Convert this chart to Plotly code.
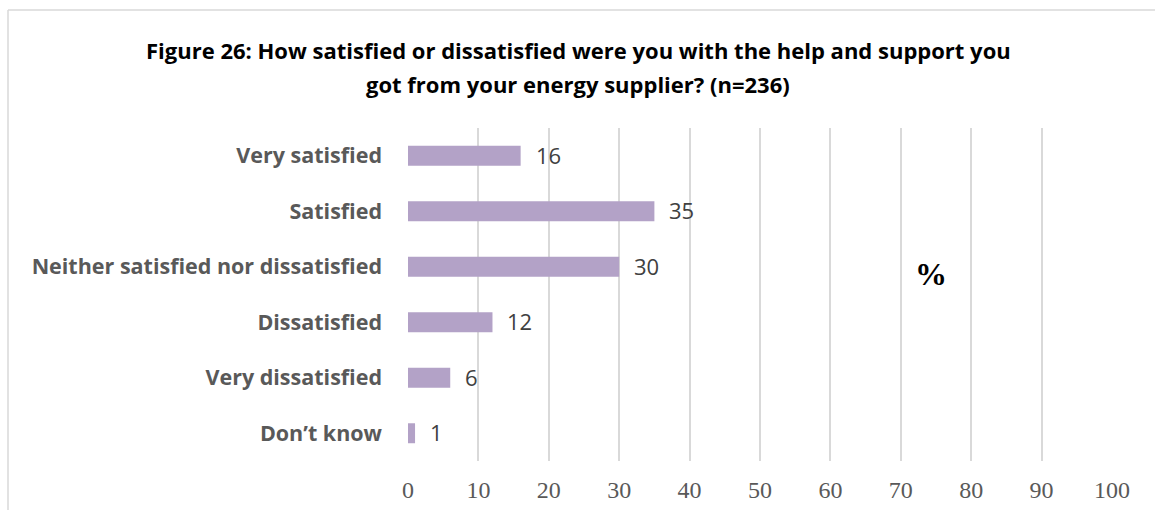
import plotly.graph_objects as go

# Survey responses (percent)
categories = [
    "Very satisfied",
    "Satisfied",
    "Neither satisfied nor dissatisfied",
    "Dissatisfied",
    "Very dissatisfied",
    "Don\u2019t know",
]
percent = [16, 35, 30, 12, 6, 1]
tick_values = [0, 10, 20, 30, 40, 50, 60, 70, 80, 90, 100]

title_lines = [
    "Figure 26: How satisfied or dissatisfied were you with the help and support you",
    "got from your energy supplier? (n=236)",
]

W, H = 1155, 510
L, R, T, B = 408, 43, 128, 49
pw, ph = W - L - R, H - T - B


def px_x(px):
    return (px - L) / pw


def px_y(py):
    return (H - B - py) / ph


fig = go.Figure()
fig.add_trace(go.Bar(
    y=categories,
    x=percent,
    orientation="h",
    marker=dict(color="#b3a2c7", line=dict(width=0)),
    width=0.36,
    hoverinfo="skip",
))

# value labels next to each bar
for cat, val in zip(categories, percent):
    fig.add_annotation(
        x=val, y=cat, xref="x", yref="y",
        text=str(val), showarrow=False,
        xanchor="left", yanchor="middle", xshift=13, yshift=1,
        font=dict(family="Open Sans, sans-serif", size=22, color="#404040"),
    )

# two-line bold title
for line, py in zip(title_lines, [50, 84]):
    fig.add_annotation(
        x=px_x(578), y=px_y(py), xref="paper", yref="paper",
        text="<b>" + line + "</b>", showarrow=False,
        xanchor="center", yanchor="middle",
        font=dict(family="Open Sans, sans-serif", size=22, color="#000000"),
    )

# axis unit marker
fig.add_annotation(
    x=px_x(931), y=px_y(274), xref="paper", yref="paper",
    text="<b>%</b>", showarrow=False,
    xanchor="center", yanchor="middle",
    font=dict(family="Liberation Serif, serif", size=32, color="#000000"),
)

# chart frame (top and left edges visible)
fig.add_shape(type="line", xref="paper", yref="paper",
              x0=px_x(8), x1=px_x(W + 5), y0=px_y(10), y1=px_y(10),
              line=dict(color="#d9d9d9", width=1.5))
fig.add_shape(type="line", xref="paper", yref="paper",
              x0=px_x(8), x1=px_x(8), y0=px_y(10), y1=px_y(H + 5),
              line=dict(color="#d9d9d9", width=1.5))

fig.update_layout(
    width=W, height=H,
    margin=dict(l=L, r=R, t=T, b=B),
    paper_bgcolor="white",
    plot_bgcolor="white",
    showlegend=False,
    xaxis=dict(
        range=[0, 100],
        tickvals=tick_values,
        ticktext=[str(v) for v in tick_values],
        showgrid=True, gridcolor="#d9d9d9", gridwidth=1.5,
        zeroline=False, showline=False, ticks="",
        tickfont=dict(family="Liberation Serif, serif", size=24, color="#595959"),
        ticklabelstandoff=12,
        automargin=False,
        fixedrange=True,
    ),
    yaxis=dict(
        categoryorder="array",
        categoryarray=categories[::-1],
        tickvals=categories,
        ticktext=["<b>" + c + "</b>" for c in categories],
        showgrid=False, zeroline=False, showline=False, ticks="",
        tickfont=dict(family="Open Sans, sans-serif", size=21.5, color="#595959"),
        ticklabelstandoff=25,
        automargin=False,
        fixedrange=True,
    ),
    bargap=0.64,
)

fig.write_html("out.html")
